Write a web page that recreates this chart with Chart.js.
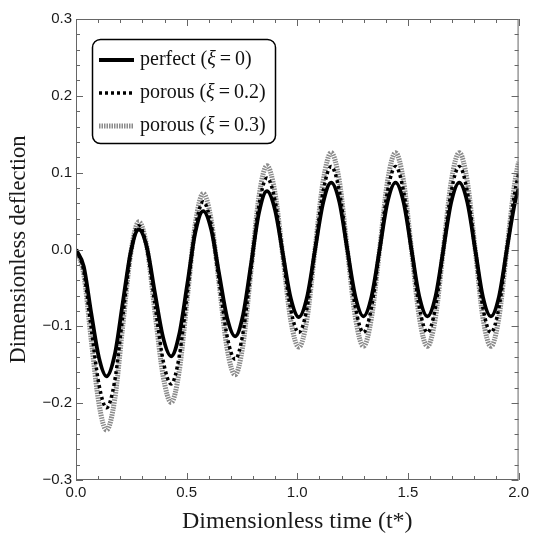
<!DOCTYPE html>
<html lang="en">
<head>
  <meta charset="UTF-8">
  <title>Dimensionless deflection</title>
  <script src="https://cdn.jsdelivr.net/npm/chart.js"></script>
  <style>
    html, body { margin: 0; padding: 0; background: #fff; }
    .chart-box { width: 533px; height: 537px; }
  </style>
</head>
<body>
<div class="chart-box">
  <canvas id="deflectionChart" width="533" height="537"></canvas>
</div>

<script>
  // time samples (t*)
  var timeValues = [
    0, 0.035, 0.069, 0.104,
    0.138, 0.175, 0.211, 0.248,
    0.284, 0.321, 0.357, 0.394,
    0.430, 0.466, 0.503, 0.539,
    0.575, 0.611, 0.647, 0.683,
    0.719, 0.755, 0.791, 0.827,
    0.863, 0.899, 0.935, 0.971,
    1.007, 1.044, 1.080, 1.117,
    1.153, 1.190, 1.226, 1.263,
    1.299, 1.335, 1.372, 1.408,
    1.444, 1.480, 1.516, 1.552,
    1.588, 1.624, 1.660, 1.696,
    1.732, 1.768, 1.804, 1.839,
    1.875, 1.911, 1.947, 1.984, 2.0
  ];

  var perfectValues = [
    0, -0.022, -0.083, -0.141,
    -0.165, -0.137, -0.070, -0.002,
    0.026, 0.002, -0.057, -0.115,
    -0.139, -0.111, -0.045, 0.022,
    0.050, 0.026, -0.032, -0.089,
    -0.113, -0.085, -0.019, 0.048,
    0.076, 0.052, -0.006, -0.064,
    -0.088, -0.062, -0.001, 0.061,
    0.087, 0.062, 0, -0.062,
    -0.087, -0.062, 0, 0.062,
    0.087, 0.062, 0, -0.062,
    -0.087, -0.062, 0, 0.062,
    0.087, 0.062, 0, -0.062,
    -0.087, -0.062, 0, 0.062, 0.079
  ];

  var porous02Values = [
    0, -0.028, -0.103, -0.176,
    -0.206, -0.171, -0.088, -0.004,
    0.031, 0.001, -0.072, -0.145,
    -0.175, -0.140, -0.057, 0.027,
    0.062, 0.032, -0.041, -0.113,
    -0.143, -0.108, -0.025, 0.058,
    0.093, 0.064, -0.008, -0.079,
    -0.108, -0.076, 0, 0.076,
    0.108, 0.076, 0, -0.076,
    -0.108, -0.076, 0, 0.076,
    0.108, 0.076, 0, -0.076,
    -0.108, -0.076, 0, 0.076,
    0.108, 0.076, 0, -0.076,
    -0.108, -0.076, 0, 0.076, 0.098
  ];

  var porous03Values = [
    0, -0.032, -0.118, -0.201,
    -0.235, -0.195, -0.100, -0.004,
    0.036, 0.002, -0.082, -0.165,
    -0.199, -0.159, -0.063, 0.033,
    0.073, 0.038, -0.045, -0.129,
    -0.163, -0.123, -0.027, 0.069,
    0.109, 0.074, -0.009, -0.093,
    -0.127, -0.090, 0, 0.089,
    0.126, 0.089, 0, -0.089,
    -0.126, -0.089, 0, 0.089,
    0.126, 0.089, 0, -0.089,
    -0.126, -0.089, 0, 0.089,
    0.126, 0.089, 0, -0.089,
    -0.126, -0.089, 0, 0.089, 0.114
  ];

  var seriesNames = ['perfect', 'porous', 'porous'];
  var seriesXi = ['0', '0.2', '0.3'];
  var xTicks = [0, 0.5, 1.0, 1.5, 2.0];
  var yTicks = [-0.3, -0.2, -0.1, 0.0, 0.1, 0.2, 0.3];

  function toPoints(values) {
    return values.map(function(v, i) { return { x: timeValues[i], y: v }; });
  }

  // frame with inward ticks on all four sides (Mathematica style)
  var frameTicks = {
    id: 'frameTicks',
    afterDraw: function(chart) {
      var ctx = chart.ctx, a = chart.chartArea;
      var xs = chart.scales.x, ys = chart.scales.y;
      ctx.save();
      ctx.strokeStyle = '#666';
      ctx.lineWidth = 1;
      ctx.strokeRect(a.left + 0.5, a.top + 0.5, a.right - a.left - 1, a.bottom - a.top - 1);
      ctx.beginPath();
      for (var i = 0; i <= 20; i++) {
        var px = Math.round(xs.getPixelForValue(i * 0.1)) + 0.5;
        var len = (i % 5 === 0) ? 7 : 4;
        ctx.moveTo(px, a.bottom); ctx.lineTo(px, a.bottom - len);
        ctx.moveTo(px, a.top); ctx.lineTo(px, a.top + len);
      }
      for (var j = 0; j <= 30; j++) {
        var py = Math.round(ys.getPixelForValue(-0.3 + j * 0.02)) + 0.5;
        var l2 = (j % 5 === 0) ? 7 : 4;
        ctx.moveTo(a.left, py); ctx.lineTo(a.left + l2, py);
        ctx.moveTo(a.right, py); ctx.lineTo(a.right - l2, py);
      }
      ctx.stroke();
      ctx.restore();
    }
  };

  // legend box drawn by hand so the xi can be italic
  var boxLegend = {
    id: 'boxLegend',
    afterDraw: function(chart) {
      var ctx = chart.ctx;
      var x0 = 92.5, y0 = 39.5, w = 183, h = 104, r = 8;
      ctx.save();
      ctx.fillStyle = '#fff';
      ctx.strokeStyle = '#000';
      ctx.lineWidth = 1.5;
      ctx.beginPath();
      ctx.roundRect(x0, y0, w, h, r);
      ctx.fill();
      ctx.stroke();
      var rows = [60, 93, 126];
      chart.data.datasets.forEach(function(ds, i) {
        var y = rows[i];
        ctx.save();
        ctx.strokeStyle = ds.borderColor;
        ctx.lineWidth = ds.borderWidth;
        ctx.setLineDash(ds.borderDash || []);
        ctx.beginPath();
        ctx.moveTo(99, y);
        ctx.lineTo(134, y);
        ctx.stroke();
        ctx.restore();
        ctx.fillStyle = '#111';
        ctx.textBaseline = 'middle';
        var tx = 140;
        var parts = [
          [seriesNames[i] + ' (', '20px "Liberation Serif"', 0],
          ['\u03BE', 'italic 20px "Liberation Serif"', 4],
          ['=', '20px "Liberation Serif"', 4],
          [seriesXi[i] + ')', '20px "Liberation Serif"', 0]
        ];
        parts.forEach(function(p) {
          ctx.font = p[1];
          ctx.fillText(p[0], tx, y);
          tx += ctx.measureText(p[0]).width + p[2];
        });
      });
      ctx.restore();
    }
  };

  var ctx = document.getElementById('deflectionChart').getContext('2d');
  var myChart = new Chart(ctx, {
    type: 'line',
    data: {
      datasets: [{
        label: 'perfect (\u03BE=0)',
        data: toPoints(perfectValues),
        borderColor: '#000',
        borderWidth: 3.8,
        pointRadius: 0
      }, {
        label: 'porous (\u03BE=0.2)',
        data: toPoints(porous02Values),
        borderColor: '#000',
        borderWidth: 3.5,
        borderDash: [3, 3],
        pointRadius: 0
      }, {
        label: 'porous (\u03BE=0.3)',
        data: toPoints(porous03Values),
        borderColor: '#8a8a8a',
        borderWidth: 5,
        borderDash: [1.5, 1],
        pointRadius: 0
      }]
    },
    options: {
      responsive: false,
      animation: false,
      cubicInterpolationMode: 'monotone',
      layout: { padding: { top: 19, right: 12, bottom: 0, left: 0 } },
      plugins: {
        legend: { display: false },
        tooltip: { enabled: false }
      },
      scales: {
        x: {
          type: 'linear',
          min: 0,
          max: 2,
          afterBuildTicks: function(scale) {
            scale.ticks = xTicks.map(function(v) { return { value: v }; });
          },
          afterFit: function(scale) { scale.height = 57; },
          grid: { display: false, drawTicks: false },
          border: { display: false },
          ticks: {
            padding: 4,
            color: '#1a1a1a',
            font: { family: '"Liberation Sans"', size: 15 },
            maxRotation: 0,
            callback: function(v) { return Number(v).toFixed(1); }
          },
          title: {
            display: true,
            text: 'Dimensionless time (t*)',
            color: '#1a1a1a',
            font: { family: '"Liberation Serif"', size: 24 },
            padding: { top: 0, bottom: 1 }
          }
        },
        y: {
          min: -0.3,
          max: 0.3,
          afterBuildTicks: function(scale) {
            scale.ticks = yTicks.map(function(v) { return { value: v }; });
          },
          afterFit: function(scale) { scale.width = 76; },
          grid: { display: false, drawTicks: false },
          border: { display: false },
          ticks: {
            padding: 4,
            color: '#1a1a1a',
            font: { family: '"Liberation Sans"', size: 15 },
            callback: function(v) { return Number(v).toFixed(1).replace('-', '\u2212'); }
          },
          title: {
            display: true,
            text: 'Dimensionless deflection',
            color: '#1a1a1a',
            font: { family: '"Liberation Serif"', size: 22.5 },
            padding: { top: 6, bottom: 0 }
          }
        }
      }
    },
    plugins: [frameTicks, boxLegend]
  });
</script>
</body>
</html>
